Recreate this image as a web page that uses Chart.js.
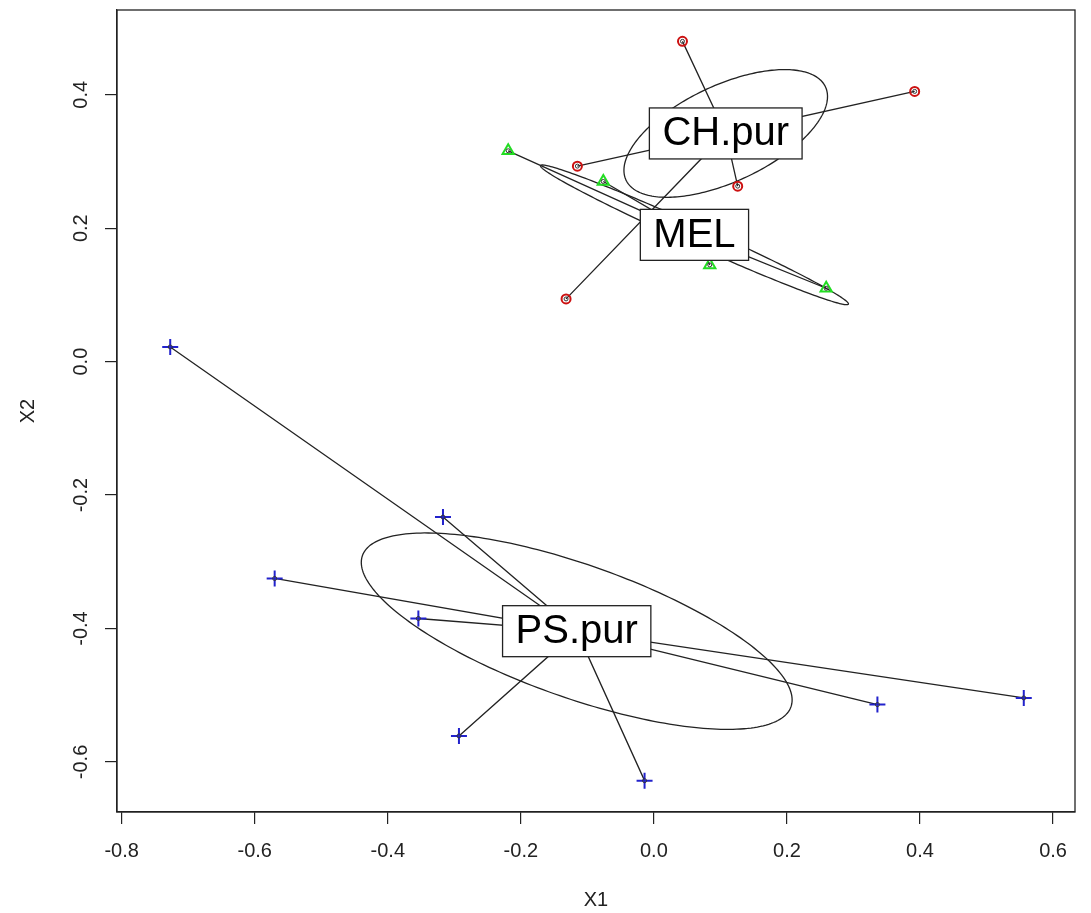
<!DOCTYPE html>
<html><head><meta charset="utf-8">
<script src="https://cdn.jsdelivr.net/npm/chart.js@4/dist/chart.umd.min.js"></script>
<style>html,body{margin:0;padding:0;background:#fff;}canvas{display:block;}</style>
</head><body>
<canvas id="c" width="1091" height="913"></canvas>
<script>
// ---- data ----
const groups = ['CH.pur', 'MEL', 'PS.pur'];
const chX = [0.043, 0.392, -0.115, 0.126, -0.132];
const chY = [0.480, 0.405, 0.293, 0.263, 0.094];
const melX = [-0.219, -0.076, 0.084, 0.259];
const melY = [0.316, 0.270, 0.145, 0.110];
const psX = [-0.727, -0.317, -0.570, -0.354, -0.293, -0.014, 0.336, 0.556];
const psY = [0.022, -0.233, -0.325, -0.385, -0.561, -0.628, -0.514, -0.504];
const centroidX = [0.108, 0.061, -0.116];
const centroidY = [0.342, 0.190, -0.404];
// dispersion ellipses: sd in x, sd in y, correlation
const ellSx = [0.153, 0.2315, 0.3238];
const ellSy = [0.0957, 0.1047, 0.1472];
const ellR = [0.578, -0.988, -0.70];
const xTicks = [-0.8, -0.6, -0.4, -0.2, 0.0, 0.2, 0.4, 0.6];
const yTicks = [-0.6, -0.4, -0.2, 0.0, 0.2, 0.4];
const xLimits = [-0.807, 0.633];
const yLimits = [-0.675, 0.527];

const FONT = 'Liberation Sans, Arial, Helvetica, sans-serif';

function pts(xs, ys) { return xs.map((x, i) => ({x: x, y: ys[i]})); }
function spokes(xs, ys, g) {
  const out = [];
  xs.forEach((x, i) => {
    out.push({x: centroidX[g], y: centroidY[g]});
    out.push({x: x, y: ys[i]});
  });
  out.push({x: centroidX[g], y: centroidY[g]});
  return out;
}

const allX = chX.concat(melX, psX);
const allY = chY.concat(melY, psY);

const ellipsePlugin = {
  id: 'ellipses',
  beforeDatasetsDraw(chart) {
    const {ctx, chartArea, scales: {x, y}} = chart;
    ctx.save();
    ctx.beginPath();
    ctx.rect(chartArea.left, chartArea.top, chartArea.right - chartArea.left, chartArea.bottom - chartArea.top);
    ctx.clip();
    ctx.strokeStyle = '#222';
    ctx.lineWidth = 1.3;
    groups.forEach((g, i) => {
      const d = Math.acos(ellR[i]);
      ctx.beginPath();
      const n = 240;
      for (let k = 0; k <= n; k++) {
        const t = 2 * Math.PI * k / n;
        const px = x.getPixelForValue(centroidX[i] + ellSx[i] * Math.cos(t));
        const py = y.getPixelForValue(centroidY[i] + ellSy[i] * Math.cos(t + d));
        if (k === 0) ctx.moveTo(px, py); else ctx.lineTo(px, py);
      }
      ctx.closePath();
      ctx.stroke();
    });
    ctx.restore();
  }
};

const labelPlugin = {
  id: 'grouplabels',
  afterDatasetsDraw(chart) {
    const {ctx, scales: {x, y}} = chart;
    ctx.save();
    ctx.font = '40px ' + FONT;
    ctx.textAlign = 'center';
    ctx.textBaseline = 'middle';
    groups.forEach((g, i) => {
      const cx = x.getPixelForValue(centroidX[i]);
      const cy = y.getPixelForValue(centroidY[i]);
      const w = ctx.measureText(g).width + 26;
      const h = 51;
      ctx.fillStyle = '#fff';
      ctx.fillRect(cx - w / 2, cy - h / 2, w, h);
      ctx.strokeStyle = '#222';
      ctx.lineWidth = 1.3;
      ctx.strokeRect(cx - w / 2, cy - h / 2, w, h);
      ctx.fillStyle = '#000';
      ctx.fillText(g, cx, cy + 1);
    });
    ctx.restore();
  },
  afterDraw(chart) {
    const {ctx, chartArea} = chart;
    ctx.save();
    ctx.strokeStyle = '#222';
    ctx.lineWidth = 1.3;
    ctx.strokeRect(chartArea.left, chartArea.top, chartArea.right - chartArea.left, chartArea.bottom - chartArea.top);
    ctx.restore();
  }
};

const spokeStyle = {showLine: true, pointRadius: 0, borderColor: '#222', borderWidth: 1.3, fill: false, tension: 0};

new Chart(document.getElementById('c'), {
  type: 'scatter',
  data: {
    datasets: [
      {label: 'points', data: pts(allX, allY), pointStyle: 'circle', pointRadius: 2, borderColor: '#333', borderWidth: 1, backgroundColor: 'rgba(0,0,0,0)'},
      {label: 'CH.pur', data: pts(chX, chY), pointStyle: 'circle', pointRadius: 4.5, borderColor: '#cc1111', borderWidth: 2, backgroundColor: 'rgba(0,0,0,0)'},
      {label: 'MEL', data: pts(melX, melY), pointStyle: 'triangle', pointRadius: 6.5, borderColor: '#22dd22', borderWidth: 2, backgroundColor: 'rgba(0,0,0,0)'},
      {label: 'PS.pur', data: pts(psX, psY), pointStyle: 'cross', pointRadius: 8, borderColor: '#2222cc', borderWidth: 2, backgroundColor: 'rgba(0,0,0,0)'},
      Object.assign({label: 'spider CH.pur', data: spokes(chX, chY, 0)}, spokeStyle),
      Object.assign({label: 'spider MEL', data: spokes(melX, melY, 1)}, spokeStyle),
      Object.assign({label: 'spider PS.pur', data: spokes(psX, psY, 2)}, spokeStyle)
    ]
  },
  options: {
    responsive: false,
    animation: false,
    devicePixelRatio: 1,
    layout: {padding: {left: 0, top: 8, right: 16, bottom: 0}},
    plugins: {legend: {display: false}, tooltip: {enabled: false}},
    elements: {point: {hoverRadius: 0}},
    scales: {
      x: {
        type: 'linear', position: 'bottom',
        min: xLimits[0], max: xLimits[1],
        afterBuildTicks: s => { s.ticks = xTicks.map(v => ({value: v})); },
        afterFit: s => { s.height = 101; s.paddingLeft = 0; s.paddingRight = 0; },
        ticks: {autoSkip: false, maxRotation: 0, minRotation: 0, padding: 15, color: '#222',
                font: {family: FONT, size: 20}, callback: v => Number(v).toFixed(1)},
        grid: {display: true, drawOnChartArea: false, drawTicks: true, tickLength: 12, color: '#222', lineWidth: 1.2},
        border: {display: true, color: '#222', width: 1.2},
        title: {display: true, text: 'X1', color: '#222', font: {family: FONT, size: 20}, padding: {top: 0, bottom: 1}}
      },
      y: {
        type: 'linear', position: 'left',
        min: yLimits[0], max: yLimits[1],
        afterBuildTicks: s => { s.ticks = yTicks.map(v => ({value: v})); },
        afterFit: s => { s.width = 117; s.paddingTop = 0; s.paddingBottom = 0; },
        ticks: {autoSkip: false, minRotation: 90, maxRotation: 90, crossAlign: 'center', padding: 6, color: '#222',
                font: {family: FONT, size: 20}, callback: v => Number(v).toFixed(1)},
        grid: {display: true, drawOnChartArea: false, drawTicks: true, tickLength: 12, color: '#222', lineWidth: 1.2},
        border: {display: true, color: '#222', width: 1.2},
        title: {display: true, text: 'X2', color: '#222', font: {family: FONT, size: 20}, padding: {top: 16, bottom: 0}}
      }
    }
  },
  plugins: [ellipsePlugin, labelPlugin]
});
</script>
</body></html>
